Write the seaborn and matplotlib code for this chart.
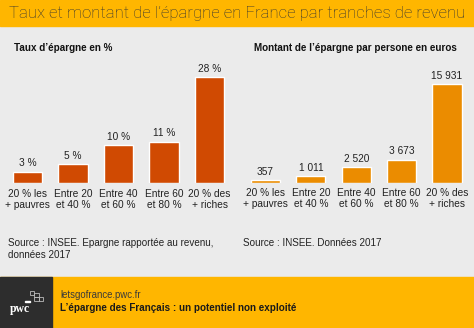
import matplotlib
matplotlib.use("Agg")
import matplotlib.pyplot as plt
import seaborn as sns
from matplotlib.patches import Rectangle

categories = ["20 % les\n+ pauvres", "Entre 20\net 40 %", "Entre 40\net 60 %", "Entre 60\net 80 %", "20 % des\n+ riches"]
taux = [3, 5, 10, 11, 28]
montant = [357, 1011, 2520, 3673, 15931]
taux_labels = [f"{v} %" for v in taux]
montant_labels = [f"{v:,}".replace(",", "\u00a0") for v in montant]

title = "Taux et montant de l\u2019épargne en France par tranches de revenu"
sub_left = "Taux d\u2019épargne en %"
sub_right = "Montant de l\u2019épargne par persone en euros"
src_left = "Source : INSEE. Epargne rapportée au revenu,\ndonnées 2017"
src_right = "Source : INSEE. Données 2017"
footer_url = "letsgofrance.pwc.fr"
footer_title = "L\u2019épargne des Français : un potentiel non exploité"

sns.set_style("white")
plt.rcParams["font.family"] = ["Liberation Sans", "DejaVu Sans"]

W, H = 474, 328
fig = plt.figure(figsize=(W / 100, H / 100), dpi=100)
BG = "#ebebeb"
YEL = "#ffb600"
fig.patch.set_facecolor(BG)

def px(x0, y0, x1, y1):
    return [x0 / W, 1 - y1 / H, (x1 - x0) / W, (y1 - y0) / H]

# bands
fig.patches.append(Rectangle((0, 1 - 25.5 / H), 1, 25.5 / H, transform=fig.transFigure, color=YEL, zorder=0))
fig.patches.append(Rectangle((0, 0), 1, (H - 276.5) / H, transform=fig.transFigure, color=YEL, zorder=0))
fig.patches.append(Rectangle((0, 0), 51.5 / W, (H - 276.5) / H, transform=fig.transFigure, color="#2d2d2d", zorder=1))

fig.text(9 / W, 1 - 13.5 / H, title, fontsize=12.1, color="#333333", va="center", ha="left",
         family=["Roboto", "Liberation Sans"], fontweight="light")
fig.text(14 / W, 1 - 48 / H, sub_left, fontsize=7.1, fontweight="bold", color="#111", va="center")
fig.text(254 / W, 1 - 48 / H, sub_right, fontsize=7.1, fontweight="bold", color="#111", va="center")

text_color = "#222222"

def draw(ax, vals, labels, color):
    sns.barplot(x=categories, y=vals, ax=ax, color=color, saturation=1, width=0.64)
    ax.set_facecolor("none")
    for s in ax.spines.values():
        s.set_visible(False)
    ax.set_yticks([])
    ax.set_xlim(-0.5, 4.5)
    ax.tick_params(axis="x", length=0, pad=4, labelsize=7.3, labelcolor=text_color)
    for lbl in ax.get_xticklabels():
        lbl.set_linespacing(1.15)
    ax.bar_label(ax.containers[0], labels=labels, padding=2.5, fontsize=7.3, color=text_color)
    ax.set_xlabel("")
    ax.set_ylabel("")

ax1 = fig.add_axes(px(4.75, 183.3 - 30 * 3.786, 232.25, 183.3))
draw(ax1, taux, taux_labels, "#d04a02")
ax1.set_ylim(0, 30)

ax2 = fig.add_axes(px(242.8, 182.7 - 17000 * 0.006196, 469.7, 182.7))
draw(ax2, montant, montant_labels, "#eb8c00")
ax2.set_ylim(0, 17000)

fig.text(8 / W, 1 - 238.5 / H, src_left, fontsize=7.15, color=text_color, va="top", ha="left", linespacing=1.25)
fig.text(243 / W, 1 - 238.5 / H, src_right, fontsize=7.15, color=text_color, va="top", ha="left")

fig.text(60 / W, 1 - 295 / H, footer_url, fontsize=6.9, color="#3a3a3a", va="center")
fig.text(60 / W, 1 - 308 / H, footer_title, fontsize=7.15, fontweight="bold", color="#1a1a1a", va="center")

# pwc logo
fig.text(10 / W, 1 - 309 / H, "pwc", fontsize=8.5, fontweight="bold", color="white", va="center",
         family=["Liberation Serif", "DejaVu Serif"])
for (x, y, w, h) in [(30, 291, 4, 4), (34, 293, 5, 4), (34, 297, 5, 4), (39, 297, 4, 4)]:
    fig.patches.append(Rectangle((x / W, 1 - (y + h) / H), w / W, h / H, transform=fig.transFigure,
                                 fill=False, edgecolor="#bbbbbb", linewidth=0.6, zorder=2))
fig.patches.append(Rectangle((25 / W, 1 - 301.5 / H), 5 / W, 0.8 / H, transform=fig.transFigure,
                             color="white", zorder=2))

fig.savefig("out.png", dpi=100, facecolor=BG)
